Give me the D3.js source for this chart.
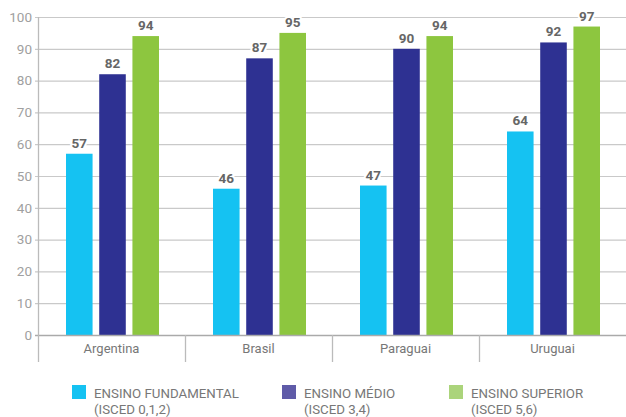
<!DOCTYPE html>
<html><head><meta charset="utf-8">
<script src="https://cdn.jsdelivr.net/npm/d3@7"></script>
<style>body{margin:0;background:#fff}svg{display:block}text{font-family:Roboto,"Liberation Sans",sans-serif}</style>
</head><body>
<svg id="c" width="626" height="417"></svg>
<script>
const categories = ["Argentina","Brasil","Paraguai","Uruguai"];
const seriesNames = ["ENSINO FUNDAMENTAL","ENSINO MÉDIO","ENSINO SUPERIOR"];
const seriesSub = ["(ISCED 0,1,2)","(ISCED 3,4)","(ISCED 5,6)"];
const fundamental = [57,46,47,64];
const medio = [82,87,90,92];
const superior = [94,95,94,97];
const yTicks = [0,10,20,30,40,50,60,70,80,90,100];
const barColors = ["#15c2f2","#2e3192","#8dc63f"];
const legendColors = ["#15c2f2","#5f5ba8","#abd47b"];

const series = [fundamental, medio, superior];
const svg = d3.select("#c");
const m = {l:38, r:0, t:17, b:82};
const W = 626, H = 417;
const x = d3.scaleBand().domain(categories).range([m.l, W - m.r]).paddingInner(0).paddingOuter(0);
const y = d3.scaleLinear().domain([0,100]).range([335, 17]);
const xs = d3.scaleBand().domain(d3.range(3)).range([28, 121]).paddingInner(0.2);

// grid
const g = svg.append("g");
g.selectAll("line.grid").data(yTicks.filter(d=>d>0)).join("line")
  .attr("x1", m.l-3).attr("x2", W).attr("y1", d=>y(d)+0.5).attr("y2", d=>y(d)+0.5)
  .attr("stroke", "#c9c9c9").attr("stroke-width", 1.2);
g.selectAll("text.yt").data(yTicks).join("text")
  .attr("x", 32).attr("y", d=>y(d)).attr("dy","0.35em").attr("text-anchor","end")
  .attr("fill","#a0a0a0").attr("font-size",13.5).text(d=>d);

// bars
categories.forEach((c,i)=>{
  series.forEach((s,j)=>{
    svg.append("rect").attr("x", x(c)+xs(j)).attr("width", xs.bandwidth())
      .attr("y", y(s[i])).attr("height", y(0)-y(s[i])).attr("fill", barColors[j]);
    svg.append("text").attr("x", x(c)+xs(j)+xs.bandwidth()/2).attr("y", y(s[i])-6)
      .attr("text-anchor","middle").attr("fill","#666").attr("font-size",13.5).attr("font-weight","bold")
      .attr("stroke","#fff").attr("stroke-width",4).attr("paint-order","stroke")
      .text(s[i]);
  });
});

// axes
svg.append("line").attr("x1", m.l-3).attr("x2", W).attr("y1", y(0)+0.5).attr("y2", y(0)+0.5).attr("stroke","#aaa").attr("stroke-width",1.3);
svg.append("line").attr("x1", m.l+0.5).attr("x2", m.l+0.5).attr("y1", 17).attr("y2", 362).attr("stroke","#bbb").attr("stroke-width",1.3);
categories.forEach((c,i)=>{
  if(i>0) svg.append("line").attr("x1", x(c)+0.5).attr("x2", x(c)+0.5).attr("y1", y(0)).attr("y2", 362).attr("stroke","#bbb").attr("stroke-width",1.3);
  svg.append("text").attr("x", x(c)+x.bandwidth()/2).attr("y", 353).attr("text-anchor","middle")
    .attr("fill","#777").attr("font-size",13).text(c);
});

// legend
const lx = [72, 282, 449];
seriesNames.forEach((n,j)=>{
  svg.append("rect").attr("x", lx[j]).attr("y", 385).attr("width",14).attr("height",14).attr("fill", legendColors[j]);
  svg.append("text").attr("x", lx[j]+22).attr("y", 398).attr("fill","#777").attr("font-size",13.3).text(n);
  svg.append("text").attr("x", lx[j]+22).attr("y", 414).attr("fill","#777").attr("font-size",13.3).text(seriesSub[j]);
});
</script>
</body></html>
